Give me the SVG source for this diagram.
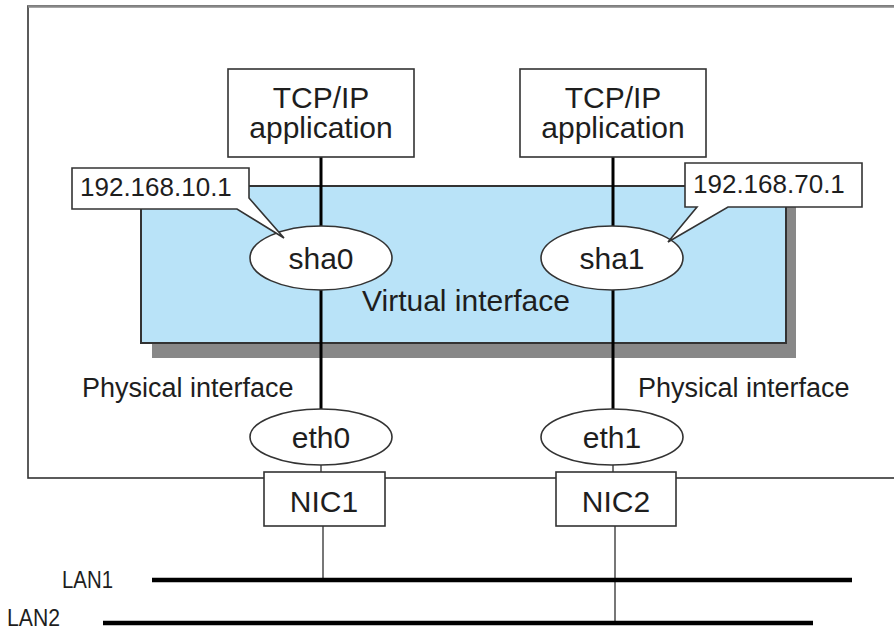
<svg xmlns="http://www.w3.org/2000/svg" width="894" height="630" viewBox="0 0 894 630">
<style>
text{font-family:"Liberation Sans",Arial,sans-serif;fill:#1e1e1e}
.lbl{font-size:30px;text-anchor:middle}
.sm{font-size:26px}
.box{fill:#fff;stroke:#333;stroke-width:1.6}
.thick{stroke:#000;stroke-width:3;fill:none}
.thin{stroke:#777;stroke-width:2;fill:none}
.lan{stroke:#000;stroke-width:4.5;fill:none}
</style>
<rect width="894" height="630" fill="#fff"/>
<g id="host">
<rect x="28" y="6" width="890" height="472" fill="#fff" stroke="#333" stroke-width="1.6"/>
<line x1="28" y1="6.5" x2="894" y2="6.5" stroke="#888" stroke-width="2.5"/>
</g>
<g id="virtual">
<rect x="152" y="197" width="644" height="161" fill="#888"/>
<rect x="141" y="186" width="645" height="157" fill="#b9e3f8" stroke="#333" stroke-width="2"/>
<text x="466" y="311" style="font-size:30px" text-anchor="middle">Virtual interface</text>
</g>
<g id="connectors">
<line class="thick" x1="321" y1="157" x2="321" y2="226"/>
<line class="thick" x1="321" y1="290" x2="321" y2="409"/>
<line class="thick" x1="613" y1="157" x2="613" y2="226"/>
<line class="thick" x1="613" y1="290" x2="613" y2="409"/>
<line class="thin" x1="321" y1="465" x2="321" y2="472"/>
<line class="thin" x1="613" y1="465" x2="613" y2="472"/>
<line class="thin" x1="323" y1="526" x2="323" y2="580"/>
<line class="thin" x1="615" y1="526" x2="615" y2="623"/>
</g>
<g id="app1">
<rect class="box" x="228" y="69" width="186" height="88"/>
<text class="lbl" x="321" y="108">TCP/IP</text>
<text class="lbl" x="321" y="138">application</text>
</g>
<g id="app2">
<rect class="box" x="520" y="69" width="186" height="88"/>
<text class="lbl" x="613" y="108">TCP/IP</text>
<text class="lbl" x="613" y="138">application</text>
</g>
<g id="sha0">
<ellipse class="box" cx="321" cy="258" rx="71" ry="32"/>
<text class="lbl" x="321" y="269">sha0</text>
</g>
<g id="sha1">
<ellipse class="box" cx="612" cy="258" rx="71" ry="32"/>
<text class="lbl" x="612" y="269">sha1</text>
</g>
<g id="ip1">
<path class="box" d="M72,168 H249 V198 L284,238 L237,209 H72 Z"/>
<text class="sm" x="80" y="196">192.168.10.1</text>
</g>
<g id="ip2">
<path class="box" d="M685,163 H862 V207 H728 L668,242 L697,207 H685 Z"/>
<text class="sm" x="693" y="193">192.168.70.1</text>
</g>
<g id="phys">
<text x="82" y="397" style="font-size:27px">Physical interface</text>
<text x="638" y="397" style="font-size:27px">Physical interface</text>
</g>
<g id="eth0">
<ellipse class="box" cx="321" cy="437" rx="71" ry="28"/>
<text class="lbl" x="321" y="448">eth0</text>
</g>
<g id="eth1">
<ellipse class="box" cx="612" cy="437" rx="71" ry="28"/>
<text class="lbl" x="612" y="448">eth1</text>
</g>
<g id="nic1">
<rect class="box" x="264" y="472" width="121" height="54"/>
<text class="lbl" x="324" y="512">NIC1</text>
</g>
<g id="nic2">
<rect class="box" x="556" y="472" width="120" height="54"/>
<text class="lbl" x="616" y="512">NIC2</text>
</g>
<g id="lan1">
<line class="lan" x1="152" y1="580" x2="852" y2="580"/>
<text x="62" y="588" style="font-size:24px" textLength="51" lengthAdjust="spacingAndGlyphs">LAN1</text>
</g>
<g id="lan2">
<line class="lan" x1="103" y1="623" x2="813" y2="623"/>
<text x="7" y="626" style="font-size:23px" textLength="53" lengthAdjust="spacingAndGlyphs">LAN2</text>
</g>
</svg>
